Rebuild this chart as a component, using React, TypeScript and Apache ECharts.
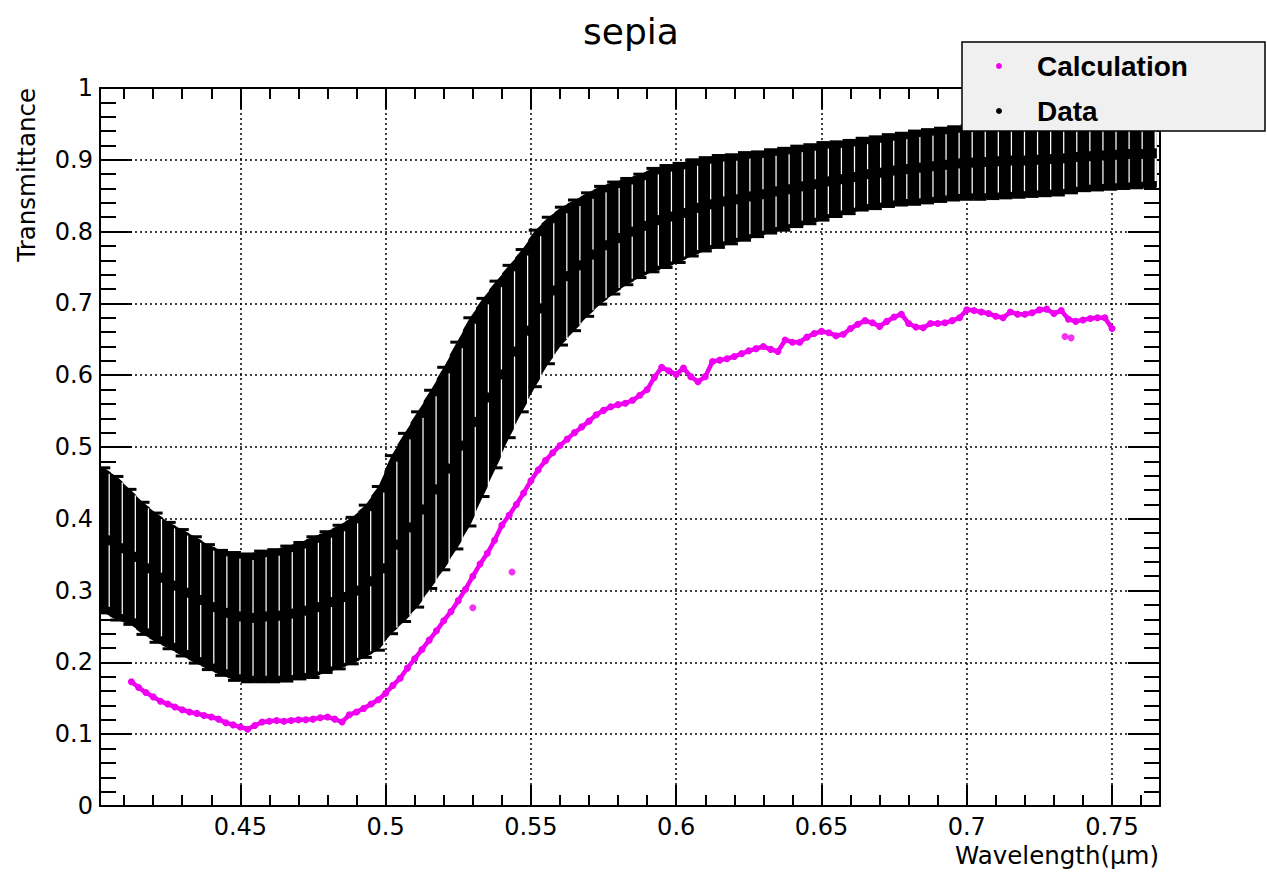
import React, { useEffect, useRef } from "react";
import * as echarts from "echarts";

const TITLE = "sepia";
const X_TITLE = "Wavelength(μm)";
const Y_TITLE = "Transmittance";
const LEGEND_LABELS = ["Calculation", "Data"];

const X_MIN = 0.4017;
const X_MAX = 0.7665;
const X_MAJOR = [0.45, 0.5, 0.55, 0.6, 0.65, 0.7, 0.75];
const X_MINOR = [0.41, 0.42, 0.43, 0.44, 0.46, 0.47, 0.48, 0.49, 0.51, 0.52, 0.53, 0.54, 0.56, 0.57, 0.58, 0.59, 0.61, 0.62, 0.63, 0.64, 0.66, 0.67, 0.68, 0.69, 0.71, 0.72, 0.73, 0.74, 0.76];
const Y_MIN = 0;
const Y_MAX = 1;
const Y_STEP = 0.1;

// "Data": wavelength, transmittance, error
const DATA_STEP = 0.0045;
const dataWavelength = [0.403, 0.4075, 0.412, 0.4165, 0.421, 0.4255, 0.43, 0.4345, 0.439, 0.4435, 0.448, 0.4525, 0.457, 0.4615, 0.466, 0.4705, 0.475, 0.4795, 0.484, 0.4885, 0.493, 0.4975, 0.502, 0.5065, 0.511, 0.5155, 0.52, 0.5245, 0.529, 0.5335, 0.538, 0.5425, 0.547, 0.5515, 0.556, 0.5605, 0.565, 0.5695, 0.574, 0.5785, 0.583, 0.5875, 0.592, 0.5965, 0.601, 0.6055, 0.61, 0.6145, 0.619, 0.6235, 0.628, 0.6325, 0.637, 0.6415, 0.646, 0.6505, 0.655, 0.6595, 0.664, 0.6685, 0.673, 0.6775, 0.682, 0.6865, 0.691, 0.6955, 0.7, 0.7045, 0.709, 0.7135, 0.718, 0.7225, 0.727, 0.7315, 0.736, 0.7405, 0.745, 0.7495, 0.754, 0.7585, 0.763];
const dataValue = [0.370, 0.359, 0.347, 0.331, 0.318, 0.307, 0.297, 0.287, 0.277, 0.269, 0.264, 0.262, 0.264, 0.265, 0.268, 0.272, 0.277, 0.284, 0.291, 0.300, 0.313, 0.331, 0.364, 0.388, 0.413, 0.441, 0.470, 0.502, 0.535, 0.569, 0.601, 0.633, 0.662, 0.693, 0.718, 0.738, 0.753, 0.768, 0.781, 0.791, 0.800, 0.808, 0.816, 0.821, 0.826, 0.833, 0.838, 0.842, 0.845, 0.849, 0.852, 0.856, 0.859, 0.863, 0.866, 0.870, 0.873, 0.876, 0.880, 0.882, 0.885, 0.887, 0.889, 0.891, 0.893, 0.895, 0.896, 0.897, 0.898, 0.899, 0.899, 0.900, 0.901, 0.902, 0.904, 0.905, 0.906, 0.907, 0.908, 0.908, 0.909];
const dataError = [0.101, 0.100, 0.094, 0.092, 0.090, 0.088, 0.088, 0.088, 0.087, 0.087, 0.089, 0.089, 0.091, 0.092, 0.094, 0.095, 0.098, 0.098, 0.100, 0.102, 0.106, 0.114, 0.124, 0.131, 0.136, 0.138, 0.141, 0.144, 0.145, 0.138, 0.130, 0.120, 0.113, 0.109, 0.102, 0.096, 0.091, 0.086, 0.082, 0.078, 0.074, 0.072, 0.072, 0.071, 0.069, 0.067, 0.065, 0.064, 0.062, 0.061, 0.059, 0.058, 0.057, 0.056, 0.055, 0.054, 0.052, 0.051, 0.050, 0.050, 0.050, 0.050, 0.051, 0.051, 0.051, 0.051, 0.051, 0.052, 0.052, 0.052, 0.051, 0.051, 0.051, 0.051, 0.050, 0.048, 0.048, 0.048, 0.048, 0.047, 0.047];

// "Calculation"
const calcWavelength = [0.4125, 0.415, 0.4175, 0.42, 0.4225, 0.425, 0.4275, 0.43, 0.4325, 0.435, 0.4375, 0.44, 0.4425, 0.445, 0.4475, 0.45, 0.4525, 0.455, 0.4575, 0.46, 0.4625, 0.465, 0.4675, 0.47, 0.4725, 0.475, 0.4775, 0.48, 0.4825, 0.485, 0.4875, 0.49, 0.4925, 0.495, 0.4975, 0.5, 0.5025, 0.505, 0.5075, 0.51, 0.5125, 0.515, 0.5175, 0.52, 0.5225, 0.525, 0.5275, 0.53, 0.5325, 0.535, 0.5375, 0.54, 0.5425, 0.545, 0.5475, 0.55, 0.5525, 0.555, 0.5575, 0.56, 0.5625, 0.565, 0.5675, 0.57, 0.5725, 0.575, 0.5775, 0.58, 0.5825, 0.585, 0.5875, 0.59, 0.5925, 0.595, 0.5975, 0.6, 0.6025, 0.605, 0.6075, 0.61, 0.6125, 0.615, 0.6175, 0.62, 0.6225, 0.625, 0.6275, 0.63, 0.6325, 0.635, 0.6375, 0.64, 0.6425, 0.645, 0.6475, 0.65, 0.6525, 0.655, 0.6575, 0.66, 0.6625, 0.665, 0.6675, 0.67, 0.6725, 0.675, 0.6775, 0.68, 0.6825, 0.685, 0.6875, 0.69, 0.6925, 0.695, 0.6975, 0.7, 0.7025, 0.705, 0.7075, 0.71, 0.7125, 0.715, 0.7175, 0.72, 0.7225, 0.725, 0.7275, 0.73, 0.7325, 0.735, 0.7375, 0.74, 0.7425, 0.745, 0.7475, 0.75];
const calcValue = [0.173, 0.165, 0.158, 0.152, 0.146, 0.142, 0.138, 0.134, 0.131, 0.129, 0.126, 0.124, 0.121, 0.116, 0.113, 0.110, 0.107, 0.112, 0.117, 0.118, 0.119, 0.118, 0.119, 0.120, 0.120, 0.121, 0.123, 0.124, 0.121, 0.117, 0.127, 0.131, 0.136, 0.142, 0.148, 0.157, 0.168, 0.178, 0.192, 0.205, 0.218, 0.231, 0.244, 0.258, 0.271, 0.286, 0.302, 0.320, 0.337, 0.352, 0.370, 0.391, 0.405, 0.420, 0.436, 0.453, 0.468, 0.481, 0.492, 0.502, 0.511, 0.520, 0.528, 0.536, 0.545, 0.551, 0.556, 0.559, 0.561, 0.565, 0.572, 0.580, 0.597, 0.611, 0.606, 0.601, 0.610, 0.598, 0.591, 0.598, 0.619, 0.621, 0.623, 0.626, 0.630, 0.634, 0.637, 0.640, 0.636, 0.633, 0.649, 0.646, 0.646, 0.653, 0.658, 0.661, 0.659, 0.655, 0.657, 0.665, 0.671, 0.676, 0.673, 0.668, 0.675, 0.681, 0.685, 0.672, 0.667, 0.666, 0.672, 0.672, 0.673, 0.676, 0.680, 0.691, 0.690, 0.688, 0.686, 0.682, 0.680, 0.688, 0.685, 0.685, 0.687, 0.691, 0.692, 0.686, 0.690, 0.678, 0.675, 0.677, 0.679, 0.680, 0.680, 0.665];
const calcOutlierWavelength = [0.53, 0.5435, 0.7338, 0.7359];
const calcOutlierValue = [0.276, 0.326, 0.654, 0.652];

const MAGENTA = "#f000f0";
const FONT = "DejaVu Sans";

export default function App() {
  const ref = useRef<HTMLDivElement>(null);

  useEffect(() => {
    if (!ref.current) return;
    const chart = echarts.init(ref.current, null, { renderer: "svg" });

    const dataItems = dataWavelength.map((w, i) => [w, dataValue[i], dataError[i]]);
    const calcItems = calcWavelength.map((w, i) => [w, calcValue[i]]);
    const outlierItems = calcOutlierWavelength.map((w, i) => [w, calcOutlierValue[i]]);

    const frameLine = { show: true, lineStyle: { color: "#000", width: 2 } };
    const noLabel = { show: false };
    const noSplit = { show: false };

    const option: any = {
      animation: false,
      backgroundColor: "#fff",
      grid: { left: 100, top: 88, right: 107, bottom: 69, containLabel: false },
      xAxis: [
        {
          type: "value", position: "bottom", min: X_MIN, max: X_MAX, splitNumber: 7,
          axisLine: frameLine,
          axisTick: { show: true, inside: true, length: 21, customValues: X_MAJOR, lineStyle: { color: "#000", width: 2 } },
          minorTick: { show: false },
          axisLabel: { show: true, customValues: X_MAJOR, margin: 9, fontSize: 24, fontFamily: FONT, color: "#000" },
          splitLine: { show: true, lineStyle: { color: "#000", width: 1.5, type: [2, 3] } },
        },
        {
          type: "value", position: "bottom", min: X_MIN, max: X_MAX,
          axisLine: { show: false },
          axisTick: { show: true, inside: true, length: 11, customValues: X_MINOR, lineStyle: { color: "#000", width: 2 } },
          axisLabel: noLabel, splitLine: noSplit,
        },
        {
          type: "value", position: "top", min: X_MIN, max: X_MAX,
          axisLine: frameLine,
          axisTick: { show: true, inside: true, length: 21, customValues: X_MAJOR, lineStyle: { color: "#000", width: 2 } },
          axisLabel: noLabel, splitLine: noSplit,
        },
        {
          type: "value", position: "top", min: X_MIN, max: X_MAX,
          axisLine: { show: false },
          axisTick: { show: true, inside: true, length: 11, customValues: X_MINOR, lineStyle: { color: "#000", width: 2 } },
          axisLabel: noLabel, splitLine: noSplit,
        },
      ],
      yAxis: [
        {
          type: "value", position: "left", min: Y_MIN, max: Y_MAX, interval: Y_STEP,
          axisLine: frameLine,
          axisTick: { show: true, inside: true, length: 32, lineStyle: { color: "#000", width: 2 } },
          minorTick: { show: true, splitNumber: 5, length: 16, lineStyle: { color: "#000", width: 2 } },
          axisLabel: { show: true, margin: 7, fontSize: 24, fontFamily: FONT, color: "#000" },
          splitLine: { show: true, lineStyle: { color: "#000", width: 1.5, type: [2, 3] } },
        },
        {
          type: "value", position: "right", min: Y_MIN, max: Y_MAX, interval: Y_STEP,
          axisLine: frameLine,
          axisTick: { show: true, inside: true, length: 32, lineStyle: { color: "#000", width: 2 } },
          minorTick: { show: true, splitNumber: 5, length: 16, lineStyle: { color: "#000", width: 2 } },
          axisLabel: noLabel, splitLine: noSplit,
        },
      ],
      series: [
        {
          name: "Data",
          type: "custom",
          xAxisIndex: 0, yAxisIndex: 0,
          encode: { x: 0, y: 1 },
          clip: true,
          z: 3,
          data: dataItems,
          renderItem: (params: any, api: any) => {
            const i = params.dataIndex;
            const cur = dataItems[i];
            const prev = dataItems[i - 1] || cur;
            const next = dataItems[i + 1] || cur;
            const x = cur[0];
            const half = DATA_STEP / 2;
            const topC = cur[1] + cur[2];
            const botC = cur[1] - cur[2];
            const topL = (topC + prev[1] + prev[2]) / 2;
            const topR = (topC + next[1] + next[2]) / 2;
            const botL = (botC + prev[1] - prev[2]) / 2;
            const botR = (botC + next[1] - next[2]) / 2;
            const pTL = api.coord([x - half, topL]);
            const pTC = api.coord([x, topC]);
            const pTR = api.coord([x + half, topR]);
            const pBR = api.coord([x + half, botR]);
            const pBC = api.coord([x, botC]);
            const pBL = api.coord([x - half, botL]);
            const mid = api.coord([x, cur[1]]);
            const w = api.size([DATA_STEP, 0])[0];
            const children: any[] = [
              {
                type: "polygon",
                shape: { points: [[pTL[0] - 0.5, pTL[1]], pTC, [pTR[0] + 0.5, pTR[1]], [pBR[0] + 0.5, pBR[1]], pBC, [pBL[0] - 0.5, pBL[1]]] },
                style: { fill: "#000" },
              },
              // caps
              { type: "rect", shape: { x: pTC[0] - w / 2, y: pTC[1] - 1.5, width: w, height: 3 }, style: { fill: "#000" } },
              { type: "rect", shape: { x: pBC[0] - w / 2, y: pBC[1] - 1.5, width: w, height: 3 }, style: { fill: "#000" } },
            ];
            const y1 = pTC[1] + 6;
            const y2 = mid[1] - 5;
            const y3 = mid[1] + 5;
            const y4 = pBC[1] - 6;
            const sxp = api.coord([x + half * 0.9, cur[1]])[0];
            if (y2 > y1) children.push({ type: "line", shape: { x1: sxp, y1, x2: sxp, y2 }, style: { stroke: "#fff", lineWidth: 2.2 } });
            if (y4 > y3) children.push({ type: "line", shape: { x1: sxp, y1: y3, x2: sxp, y2: y4 }, style: { stroke: "#fff", lineWidth: 2.2 } });
            return { type: "group", children };
          },
        },
        {
          name: "Calculation",
          type: "line",
          xAxisIndex: 0, yAxisIndex: 0,
          data: calcItems,
          symbol: "circle",
          symbolSize: 7,
          showSymbol: true,
          showAllSymbol: true,
          z: 4,
          lineStyle: { color: MAGENTA, width: 4.5 },
          itemStyle: { color: MAGENTA },
        },
        {
          name: "Calculation",
          type: "scatter",
          xAxisIndex: 0, yAxisIndex: 0,
          data: outlierItems,
          symbol: "circle",
          symbolSize: 7,
          z: 4,
          itemStyle: { color: MAGENTA },
        },
      ],
      graphic: [
        {
          type: "text", x: 631, y: 31, z: 50,
          style: { text: TITLE, fontSize: 36, fontFamily: FONT, fill: "#000", align: "center", verticalAlign: "middle" },
        },
        {
          type: "text", x: 1159, y: 855, z: 50,
          style: { text: X_TITLE, fontSize: 24.5, fontFamily: FONT, fill: "#000", align: "right", verticalAlign: "middle" },
        },
        {
          type: "text", x: 26.5, y: 88, rotation: Math.PI / 2, z: 50,
          style: { text: Y_TITLE, fontSize: 24.5, fontFamily: FONT, fill: "#000", align: "right", verticalAlign: "middle" },
        },
        {
          type: "group", z: 100,
          children: [
            { type: "rect", z: 100, shape: { x: 962, y: 42, width: 303, height: 89 }, style: { fill: "#f0f0f0", stroke: "#000", lineWidth: 1.5 } },
            { type: "circle", z: 101, shape: { cx: 999, cy: 66, r: 3 }, style: { fill: MAGENTA } },
            { type: "circle", z: 101, shape: { cx: 999, cy: 111, r: 3 }, style: { fill: "#000" } },
            { type: "text", z: 101, x: 1037, y: 66, style: { text: LEGEND_LABELS[0], fontSize: 28, fontWeight: "bold", fontFamily: "Liberation Sans", fill: "#000", align: "left", verticalAlign: "middle" } },
            { type: "text", z: 101, x: 1037, y: 111, style: { text: LEGEND_LABELS[1], fontSize: 28, fontWeight: "bold", fontFamily: "Liberation Sans", fill: "#000", align: "left", verticalAlign: "middle" } },
          ],
        },
      ],
    };

    chart.setOption(option);
    return () => chart.dispose();
  }, []);

  return (
    <div
      ref={ref}
      style={{ position: "absolute", left: 0, top: 0, width: "1267px", height: "875px", background: "#fff" }}
    />
  );
}
